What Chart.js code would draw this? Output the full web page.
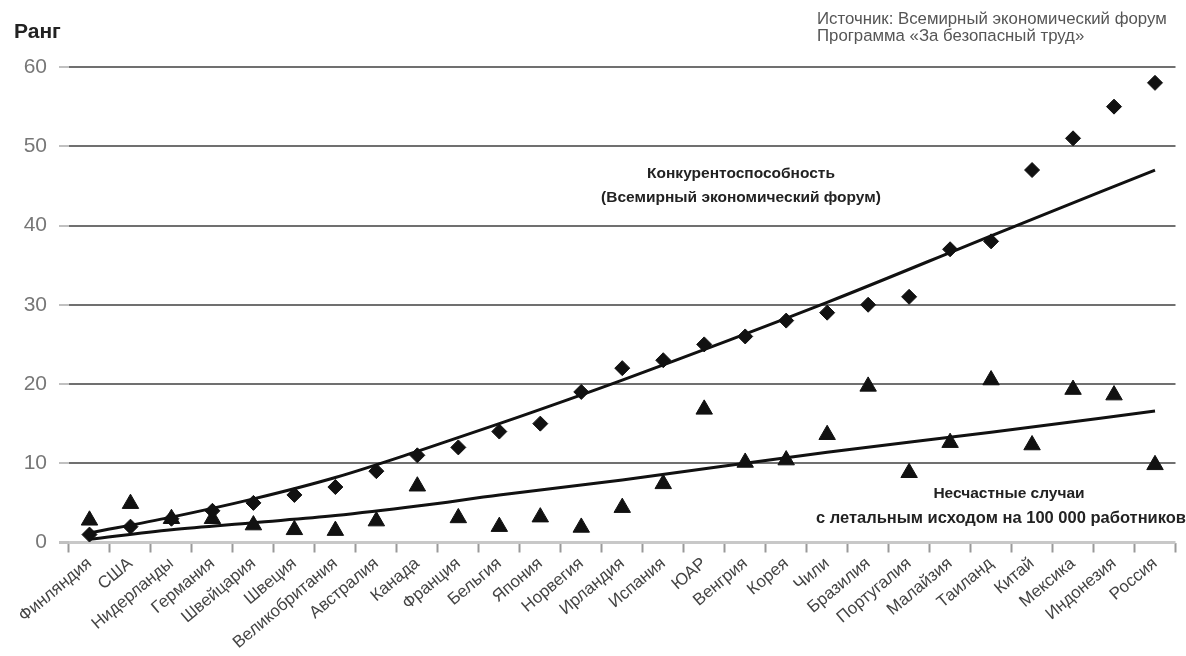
<!DOCTYPE html>
<html><head><meta charset="utf-8">
<script src="https://cdn.jsdelivr.net/npm/chart.js@4.4.1/dist/chart.umd.min.js"></script>
<style>html,body{margin:0;padding:0;background:#fff}#wrap{width:1186px;height:656px;position:relative}</style>
</head><body><div id="wrap"><canvas id="c"></canvas></div>
<script>
const categories = ['Финляндия','США','Нидерланды','Германия','Швейцария','Швеция','Великобритания','Австралия','Канада','Франция','Бельгия','Япония','Норвегия','Ирландия','Испания','ЮАР','Венгрия','Корея','Чили','Бразилия','Португалия','Малайзия','Таиланд','Китай','Мексика','Индонезия','Россия'];
const competitiveness = [1,2,3,4,5,6,7,9,11,12,14,15,19,22,23,25,26,28,29,30,31,37,38,47,51,55,58];
const accidents = [2.8,4.9,3,3,2.2,1.6,1.5,2.7,7.1,3.1,2.0,3.2,1.9,4.4,7.4,16.8,10.1,10.4,13.6,19.7,8.8,12.6,20.5,12.3,19.3,18.6,9.8];
const competitivenessTrend = [1.2,null,3.2,null,5.5,null,8.2,null,11.5,null,15.0,null,null,20.5,null,null,null,null,30.3,null,null,null,38.7,null,null,null,47.0];
const accidentsTrend = [0.4,null,1.6,null,2.5,null,3.4,null,4.6,null,6.0,null,null,7.9,null,null,null,null,11.4,null,null,null,13.9,null,null,null,16.6];
const yTicks = [0,10,20,30,40,50,60];
const yTitle = 'Ранг';
const sourceLines = ['Источник: Всемирный экономический форум','Программа «За безопасный труд»'];
const competitivenessLabel = ['Конкурентоспособность','(Всемирный экономический форум)'];
const accidentsLabel = ['Несчастные случаи','с летальным исходом на 100 000 работников'];

const FONT = '"Liberation Sans", Arial, sans-serif';

const textPlugin = {
  id: 'texts',
  afterDraw(chart) {
    const ctx = chart.ctx;
    ctx.save();
    ctx.textBaseline = 'middle';
    ctx.fillStyle = '#222';
    ctx.font = 'bold 21px ' + FONT;
    ctx.textAlign = 'left';
    ctx.fillText(yTitle, 14, 32);

    ctx.fillStyle = '#555';
    ctx.font = '16.8px ' + FONT;
    ctx.fillText(sourceLines[0], 817, 19);
    ctx.fillText(sourceLines[1], 817, 36);

    ctx.fillStyle = '#222';
    ctx.font = 'bold 15.5px ' + FONT;
    ctx.textAlign = 'center';
    ctx.fillText(competitivenessLabel[0], 741, 174);
    ctx.fillText(competitivenessLabel[1], 741, 198);
    ctx.fillText(accidentsLabel[0], 1009, 494);
    ctx.font = 'bold 16.5px ' + FONT;
    ctx.textAlign = 'right';
    ctx.fillText(accidentsLabel[1], 1186, 518);
    ctx.restore();
  }
};

new Chart(document.getElementById('c'), {
  type: 'line',
  data: {
    labels: categories,
    datasets: [
      {
        label: 'Конкурентоспособность',
        data: competitiveness,
        showLine: false,
        pointStyle: 'rectRot',
        pointRadius: 7.5,
        backgroundColor: '#111',
        borderColor: '#111',
        borderWidth: 1
      },
      {
        label: 'Несчастные случаи',
        data: accidents,
        showLine: false,
        pointStyle: 'triangle',
        pointRadius: 9.5,
        backgroundColor: '#111',
        borderColor: '#111',
        borderWidth: 1
      },
      {
        label: 'trend1',
        data: competitivenessTrend,
        spanGaps: true,
        cubicInterpolationMode: 'monotone',
        borderColor: '#111',
        borderWidth: 3,
        pointRadius: 0,
        fill: false
      },
      {
        label: 'trend2',
        data: accidentsTrend,
        spanGaps: true,
        cubicInterpolationMode: 'monotone',
        borderColor: '#111',
        borderWidth: 3,
        pointRadius: 0,
        fill: false
      }
    ]
  },
  options: {
    responsive: true,
    maintainAspectRatio: false,
    animation: false,
    layout: { padding: { top: 67, right: 4.5, left: 0, bottom: 0 } },
    plugins: { legend: { display: false }, tooltip: { enabled: false }, title: { display: false } },
    scales: {
      x: {
        type: 'category',
        offset: true,
        border: { display: false },
        grid: { offset: true, drawOnChartArea: false, drawTicks: true, tickLength: 10, tickColor: '#999', tickWidth: 2 },
        ticks: { autoSkip: false, maxRotation: 40, minRotation: 40, color: '#444', font: { family: FONT, size: 17 }, padding: 1 },
        afterFit(scale) { scale.height = 113.5; }
      },
      y: {
        min: 0, max: 60,
        border: { display: false },
        afterBuildTicks(scale) { scale.ticks = yTicks.map(v => ({ value: v })); },
        grid: {
          color: c => c.tick && c.tick.value === 0 ? '#c8c8c8' : '#707070',
          lineWidth: c => c.tick && c.tick.value === 0 ? 3 : 2,
          tickColor: '#c0c0c0', tickLength: 10, drawTicks: true
        },
        ticks: { color: '#777', font: { family: FONT, size: 21 }, padding: 12 },
        afterFit(scale) { scale.width = 69; }
      }
    }
  },
  plugins: [textPlugin]
});
</script>
</body></html>
